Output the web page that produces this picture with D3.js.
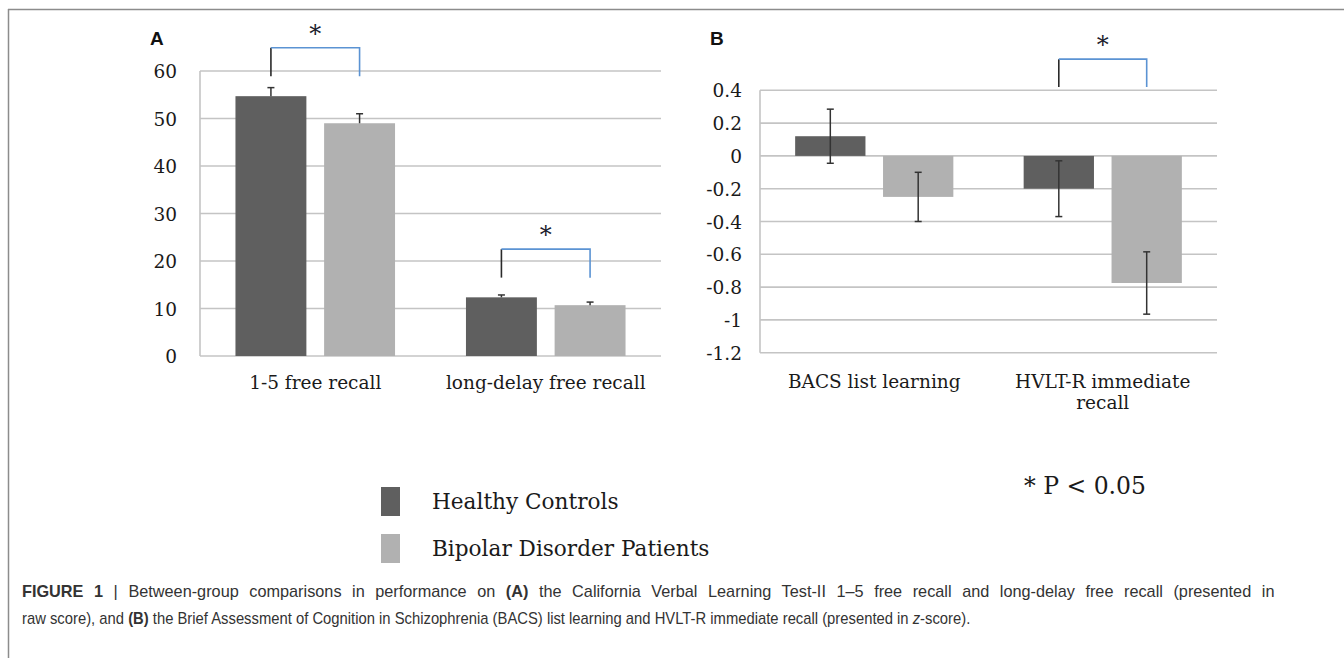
<!DOCTYPE html>
<html>
<head>
<meta charset="utf-8">
<script src="https://cdn.jsdelivr.net/npm/d3@7"></script>
<style>
  html, body { margin: 0; padding: 0; background: #ffffff; }
  svg { display: block; }
</style>
</head>
<body>
<svg id="chart" width="1344" height="658"></svg>
<script>
// ---------- Data ----------
const seriesNames = ["Healthy Controls", "Bipolar Disorder Patients"];

// Panel A (raw scores)
const panelACategories = ["1-5 free recall", "long-delay free recall"];
const panelAHealthy = [54.7, 12.35];
const panelABipolar = [49.0, 10.7];
const panelAHealthyErr = [1.8, 0.5];
const panelABipolarErr = [2.0, 0.65];
const panelATicks = [0, 10, 20, 30, 40, 50, 60];
const panelATickLabels = ["0", "10", "20", "30", "40", "50", "60"];

// Panel B (z-scores)
const panelBCategories = ["BACS list learning", "HVLT-R immediate recall"];
const panelBHealthy = [0.12, -0.20];
const panelBBipolar = [-0.25, -0.775];
const panelBHealthyErr = [0.165, 0.17];
const panelBBipolarErr = [0.15, 0.19];
const panelBTicks = [0.4, 0.2, 0, -0.2, -0.4, -0.6, -0.8, -1, -1.2];
const panelBTickLabels = ["0.4", "0.2", "0", "-0.2", "-0.4", "-0.6", "-0.8", "-1", "-1.2"];

// Significance markers (category index, bracket top value, bracket foot value)
const panelASig = [{ cat: 0, top: 64.9, foot: 58.9 }, { cat: 1, top: 22.5, foot: 16.5 }];
const panelBSig = [{ cat: 1, top: 0.59, foot: 0.42 }];

// ---------- Styles ----------
const DARK = "#5f5f5f";
const LIGHT = "#b1b1b1";
const GRID = "#c4c4c4";
const ERR = "#333333";
const BLUE = "#5b93d3";
const SERIF = "'DejaVu Serif', 'Liberation Serif', serif";
const SANS = "'Liberation Sans', Arial, sans-serif";

const svg = d3.select("#chart");

// Frame
svg.append("line").attr("x1", 8).attr("x2", 1344).attr("y1", 9.5).attr("y2", 9.5)
  .attr("stroke", "#8c8c8c").attr("stroke-width", 1.5);
svg.append("line").attr("x1", 8.5).attr("x2", 8.5).attr("y1", 9).attr("y2", 658)
  .attr("stroke", "#8c8c8c").attr("stroke-width", 1.5);

function drawPanel(cfg) {
  const g = svg.append("g");
  const x0 = d3.scaleBand().domain(cfg.categories).range([cfg.left, cfg.right]).padding(0);
  const x1 = d3.scaleBand().domain([0, 1]).range([0, x0.bandwidth()])
    .paddingInner(0.2).paddingOuter(0.4);
  const y = d3.scaleLinear().domain(cfg.domain).range([cfg.bottom, cfg.top]);

  // gridlines
  g.selectAll("line.grid").data(cfg.ticks).join("line")
    .attr("x1", cfg.left).attr("x2", cfg.right)
    .attr("y1", d => y(d)).attr("y2", d => y(d))
    .attr("stroke", GRID).attr("stroke-width", 1.6);
  // vertical axis line
  g.append("line").attr("x1", cfg.left).attr("x2", cfg.left)
    .attr("y1", y(cfg.domain[1])).attr("y2", y(cfg.domain[0]))
    .attr("stroke", GRID).attr("stroke-width", 1.6);

  // tick labels via axis
  const axis = d3.axisLeft(y).tickValues(cfg.ticks)
    .tickFormat((d, i) => cfg.tickLabels[i]).tickSize(0).tickPadding(cfg.tickPad);
  const ag = g.append("g").attr("transform", `translate(${cfg.left},0)`).call(axis);
  ag.select(".domain").remove();
  ag.selectAll("text").attr("font-family", SERIF).attr("font-size", 18.5)
    .attr("fill", "#1a1a1a").attr("dy", "0.36em");

  // bars
  const rows = [];
  cfg.categories.forEach((c, i) => {
    rows.push({ c, s: 0, v: cfg.healthy[i], e: cfg.healthyErr[i] });
    rows.push({ c, s: 1, v: cfg.bipolar[i], e: cfg.bipolarErr[i] });
  });
  g.selectAll("rect.bar").data(rows).join("rect")
    .attr("x", d => x0(d.c) + x1(d.s))
    .attr("width", x1.bandwidth())
    .attr("y", d => y(Math.max(0, d.v)))
    .attr("height", d => Math.abs(y(d.v) - y(0)))
    .attr("fill", d => d.s === 0 ? DARK : LIGHT);

  // error bars
  const cx = d => x0(d.c) + x1(d.s) + x1.bandwidth() / 2;
  const capW = 3.5;
  rows.forEach(d => {
    const yHi = y(d.v + d.e);
    const yLo = cfg.twoSided ? y(d.v - d.e) : y(d.v);
    g.append("line").attr("x1", cx(d)).attr("x2", cx(d)).attr("y1", yHi).attr("y2", yLo)
      .attr("stroke", ERR).attr("stroke-width", 1.5);
    g.append("line").attr("x1", cx(d) - capW).attr("x2", cx(d) + capW).attr("y1", yHi).attr("y2", yHi)
      .attr("stroke", ERR).attr("stroke-width", 1.5);
    if (cfg.twoSided) {
      g.append("line").attr("x1", cx(d) - capW).attr("x2", cx(d) + capW).attr("y1", yLo).attr("y2", yLo)
        .attr("stroke", ERR).attr("stroke-width", 1.5);
    }
  });

  // significance brackets
  cfg.sig.forEach(s => {
    const c = cfg.categories[s.cat];
    const xa = x0(c) + x1(0) + x1.bandwidth() / 2;
    const xb = x0(c) + x1(1) + x1.bandwidth() / 2;
    const yt = y(s.top), yf = y(s.foot);
    g.append("line").attr("x1", xa).attr("x2", xa).attr("y1", yt).attr("y2", yf)
      .attr("stroke", "#2a2a2a").attr("stroke-width", 1.6);
    g.append("path").attr("d", `M${xa},${yt}H${xb}V${yf}`)
      .attr("fill", "none").attr("stroke", BLUE).attr("stroke-width", 1.6);
    g.append("text").attr("x", (xa + xb) / 2).attr("y", yt - 6)
      .attr("text-anchor", "middle").attr("font-family", SERIF).attr("font-size", 24)
      .attr("fill", "#1d1d2e").text("*");
  });

  // category labels
  cfg.categories.forEach((c, i) => {
    const lines = cfg.wrap && cfg.wrap[i] ? cfg.wrap[i] : [c];
    const t = g.append("text").attr("text-anchor", "middle")
      .attr("font-family", SERIF).attr("font-size", 18.5).attr("fill", "#1a1a1a");
    lines.forEach((ln, k) => {
      t.append("tspan").attr("x", x0(c) + x0.bandwidth() / 2)
        .attr("y", cfg.labelBaseline + k * 21).text(ln);
    });
  });

  // panel letter
  svg.append("text").attr("x", cfg.letterX).attr("y", 45)
    .attr("font-family", SANS).attr("font-weight", "bold").attr("font-size", 19)
    .attr("fill", "#111").text(cfg.letter);
}

drawPanel({
  letter: "A", letterX: 150,
  categories: panelACategories, healthy: panelAHealthy, bipolar: panelABipolar,
  healthyErr: panelAHealthyErr, bipolarErr: panelABipolarErr,
  ticks: panelATicks, tickLabels: panelATickLabels,
  domain: [0, 60], left: 200, right: 661, top: 71, bottom: 356, tickPad: 23,
  twoSided: false, sig: panelASig, labelBaseline: 389
});

drawPanel({
  letter: "B", letterX: 710,
  categories: panelBCategories, healthy: panelBHealthy, bipolar: panelBBipolar,
  healthyErr: panelBHealthyErr, bipolarErr: panelBBipolarErr,
  ticks: panelBTicks, tickLabels: panelBTickLabels,
  domain: [-1.2, 0.4], left: 760, right: 1217, top: 90.3, bottom: 352.7, tickPad: 18,
  twoSided: true, sig: panelBSig, labelBaseline: 388,
  wrap: [null, ["HVLT-R immediate", "recall"]]
});

// Legend
const legend = svg.append("g");
seriesNames.forEach((name, i) => {
  legend.append("rect").attr("x", 381).attr("y", 487 + i * 47).attr("width", 19).attr("height", 29)
    .attr("fill", i === 0 ? DARK : LIGHT);
  legend.append("text").attr("x", 432).attr("y", 509 + i * 47)
    .attr("font-family", SERIF).attr("font-size", 21.6).attr("fill", "#1a1a1a").text(name);
});
svg.append("text").attr("x", 1024).attr("y", 494)
  .attr("font-family", SERIF).attr("font-size", 23.5).attr("fill", "#1a1a1a")
  .text("* P < 0.05");

// Caption (justified first line, condensed face)
const capLines = [
  [["FIGURE 1", "bold"], [" | Between-group comparisons in performance on ", ""], ["(A)", "bold"],
   [" the California Verbal Learning Test-II 1\u20135 free recall and long-delay free recall (presented in", ""]],
  [["raw score), and ", ""], ["(B)", "bold"],
   [" the Brief Assessment of Cognition in Schizophrenia (BACS) list learning and HVLT-R immediate recall (presented in ", ""],
   ["z", "italic"], ["-score).", ""]]
];
const capLineWidths = [1254, 949];   // line 1 is justified to the column width
const capBaselines = [597, 624];
const capTexts = capLines.map(parts => {
  const t = svg.append("text").attr("font-family", SANS).attr("font-size", 16).attr("fill", "#333333");
  parts.forEach(([s, st]) => {
    const ts = t.append("tspan").text(s);
    if (st === "bold") ts.attr("font-weight", "bold");
    if (st === "italic") ts.attr("font-style", "italic");
  });
  return t;
});
const capScale2 = capLineWidths[1] / capTexts[1].node().getComputedTextLength();
const capScale1 = capScale2 * 1.1;
capTexts.forEach((t, li) => {
  const k = li === 0 ? capScale1 : capScale2;
  if (li === 0) {
    const natural = t.node().getComputedTextLength();
    const nSpaces = capLines[0].map(p => p[0]).join("").split(" ").length - 1;
    const extra = Math.max(0, (capLineWidths[0] / k - natural) / nSpaces);
    t.style("word-spacing", extra + "px");
  }
  t.attr("transform", `translate(22,${capBaselines[li]}) scale(${k},1)`);
});
</script>
</body>
</html>
